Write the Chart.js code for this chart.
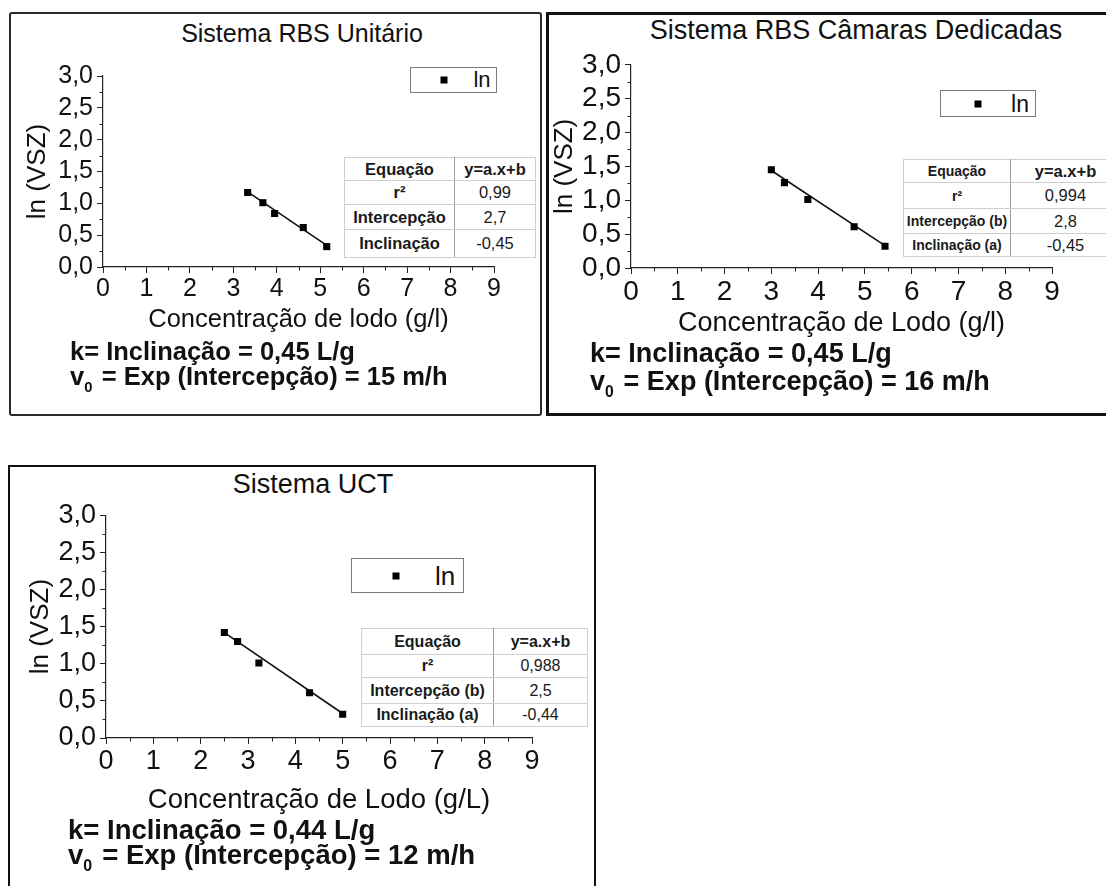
<!DOCTYPE html>
<html>
<head>
<meta charset="utf-8">
<script src="https://cdn.jsdelivr.net/npm/chart.js@4.4.1/dist/chart.umd.min.js"></script>
<style>
  body { margin: 0; background: #fff; }
  #fig { position: relative; width: 1106px; height: 886px; overflow: hidden;
         font-family: "Liberation Sans", Arial, sans-serif; color: #111; }
  .abs { position: absolute; }
  .center { transform: translate(-50%, -50%); white-space: nowrap; line-height: 1; }
  .line { transform: translateY(-50%); white-space: nowrap; line-height: 1; font-weight: bold; }
  .line sub { font-size: 58%; vertical-align: -0.45em; margin-right: 0.15em; }
  .legend { box-sizing: border-box; border: 1px solid #7a7a7a; background: #fff; }
  .legend .mk { position: absolute; width: 7px; height: 7px; background: #000;
                transform: translate(-50%, -50%); }
  table.eq { position: absolute; border-collapse: collapse; background: #fff;
             border: 1px solid #8c8c8c; table-layout: fixed; color: #1a1a1a; }
  table.eq td { border: 1px solid #cfcfcf; padding: 0; text-align: center;
                white-space: nowrap; overflow: hidden; }
  table.eq td.lab { font-weight: bold; border-right: 1px solid #9a9a9a; }
  table.eq tr.head td { font-weight: bold; }
</style>
</head>
<body>
<div id="fig"></div>
<script>
// ---- data ----
const xTickLabels = ["0", "1", "2", "3", "4", "5", "6", "7", "8", "9"];
const yTickLabels = ["0,0", "0,5", "1,0", "1,5", "2,0", "2,5", "3,0"];

const unitarioX = [3.33, 3.68, 3.95, 4.61, 5.15];
const unitarioY = [1.17, 1.01, 0.84, 0.62, 0.32];
const unitarioFitX = [3.33, 5.15];
const unitarioFitY = [1.18, 0.34];

const camarasX = [3.0, 3.28, 3.78, 4.77, 5.43];
const camarasY = [1.45, 1.26, 1.01, 0.61, 0.32];
const camarasFitX = [3.0, 5.43];
const camarasFitY = [1.44, 0.33];

const uctX = [2.5, 2.78, 3.23, 4.3, 5.0];
const uctY = [1.42, 1.30, 1.01, 0.61, 0.32];
const uctFitX = [2.5, 5.0];
const uctFitY = [1.42, 0.33];

const unitarioTable = [["Equação", "y=a.x+b"], ["r²", "0,99"], ["Intercepção", "2,7"], ["Inclinação", "-0,45"]];
const camarasTable = [["Equação", "y=a.x+b"], ["r²", "0,994"], ["Intercepção (b)", "2,8"], ["Inclinação (a)", "-0,45"]];
const uctTable = [["Equação", "y=a.x+b"], ["r²", "0,988"], ["Intercepção (b)", "2,5"], ["Inclinação (a)", "-0,44"]];

const unitarioNotes = ["k= Inclinação = 0,45 L/g", "= Exp (Intercepção) = 15 m/h"];
const camarasNotes = ["k= Inclinação = 0,45 L/g", "= Exp (Intercepção) = 16 m/h"];
const uctNotes = ["k= Inclinação = 0,44 L/g", "= Exp (Intercepção) = 12 m/h"];

// ---- layout of the three panels ----
let panels = [
  {
    title: "Sistema RBS Unitário", xTitle: "Concentração de lodo (g/l)",
    xs: unitarioX, ys: unitarioY, fitX: unitarioFitX, fitY: unitarioFitY,
    table: unitarioTable, notes: unitarioNotes,
    box: {left: 9, top: 12, width: 533, height: 404, border: "2px solid #2a2a2a", radius: 3},
    titlePos: {cx: 302, cy: 33, size: 25},
    canvas: {left: 12, top: 56, width: 526, height: 282},
    area: {x0: 103, x9: 494, y3: 76, y0: 267},
    tickSize: 25, yTitle: {cx: 38, size: 26}, xTitle2: {cy: 320, size: 25.5},
    legend: {left: 410, top: 67, width: 87, height: 26, mk: 443, txt: 481, size: 22},
    tbl: {left: 344, top: 157, cols: [110, 81], rows: [23, 24, 25, 28], lab: 16.5, val: 16.5, head: 16.5},
    notePos: {left: 70, k: 352, v: 379, size: 25.5}
  },
  {
    title: "Sistema RBS Câmaras Dedicadas", xTitle: "Concentração de Lodo (g/l)",
    xs: camarasX, ys: camarasY, fitX: camarasFitX, fitY: camarasFitY,
    table: camarasTable, notes: camarasNotes,
    box: {left: 546, top: 12, width: 580, height: 404, border: "3px solid #111", radius: 0},
    titlePos: {cx: 856, cy: 30, size: 27},
    canvas: {left: 549, top: 44, width: 540, height: 299},
    area: {x0: 631, x9: 1052, y3: 64, y0: 268},
    tickSize: 28, yTitle: {cx: 565, size: 26}, xTitle2: {cy: 324, size: 27},
    legend: {left: 940, top: 90, width: 96, height: 27, mk: 977, txt: 1019, size: 23},
    tbl: {left: 903, top: 159, cols: [107, 110], rows: [23, 26, 25, 23], lab: 14, val: 16.5, head: 14},
    notePos: {left: 590, k: 353, v: 384, size: 27}
  },
  {
    title: "Sistema UCT", xTitle: "Concentração de Lodo (g/L)",
    xs: uctX, ys: uctY, fitX: uctFitX, fitY: uctFitY,
    table: uctTable, notes: uctNotes,
    box: {left: 8, top: 465, width: 588, height: 440, border: "2px solid #111", radius: 0},
    titlePos: {cx: 313, cy: 484, size: 27},
    canvas: {left: 11, top: 495, width: 580, height: 324},
    area: {x0: 106, x9: 532, y3: 515, y0: 738},
    tickSize: 27, yTitle: {cx: 41, size: 26}, xTitle2: {cy: 800, size: 27.5},
    legend: {left: 351, top: 558, width: 113, height: 35, mk: 395, txt: 444, size: 26},
    tbl: {left: 361, top: 628, cols: [132, 94], rows: [26, 23, 26, 23], lab: 16, val: 16, head: 16},
    notePos: {left: 68, k: 830, v: 858, size: 27.5}
  }
];

const FONT = "Liberation Sans";
const AXIS = "#222";

// short half-step ticks (Chart.js has no minor ticks of its own)
const minorTicks = {
  id: "minorTicks",
  afterDraw(chart) {
    let {x, y} = chart.scales;
    let ctx = chart.ctx;
    ctx.save();
    ctx.strokeStyle = AXIS;
    ctx.lineWidth = 1;
    ctx.beginPath();
    for (let v = 0.5; v < 9; v += 1) {
      let px = Math.round(x.getPixelForValue(v)) + 0.5;
      ctx.moveTo(px, y.bottom);
      ctx.lineTo(px, y.bottom + 3.5);
    }
    for (let v = 0.25; v < 3; v += 0.5) {
      let py = Math.round(y.getPixelForValue(v)) + 0.5;
      ctx.moveTo(x.left, py);
      ctx.lineTo(x.left - 3.5, py);
    }
    ctx.stroke();
    ctx.restore();
  }
};

let fig = document.getElementById("fig");
panels.forEach(drawPanel);

function el(tag, cls, style, html) {
  let e = document.createElement(tag);
  if (cls) e.className = cls;
  Object.assign(e.style, style || {});
  if (html !== undefined) e.innerHTML = html;
  fig.appendChild(e);
  return e;
}

function drawPanel(p) {
  el("div", "abs", {
    left: p.box.left + "px", top: p.box.top + "px",
    width: p.box.width + "px", height: p.box.height + "px",
    border: p.box.border, borderRadius: p.box.radius + "px", boxSizing: "border-box"
  });

  el("div", "abs center", {
    left: p.titlePos.cx + "px", top: p.titlePos.cy + "px", fontSize: p.titlePos.size + "px"
  }, p.title);

  let c = p.canvas, a = p.area;
  let canvas = el("canvas", "abs", {left: c.left + "px", top: c.top + "px"});
  canvas.width = c.width;
  canvas.height = c.height;

  let yLine = p.yTitle.size * 1.2;
  let xLine = p.xTitle2.size * 1.2;

  new Chart(canvas, {
    type: "scatter",
    data: {
      datasets: [{
        label: "ln",
        data: p.xs.map((x, i) => ({x, y: p.ys[i]})),
        pointStyle: "rect",
        pointRadius: 5,
        backgroundColor: "#000",
        borderColor: "#000",
        borderWidth: 0
      }, {
        label: "fit",
        data: p.fitX.map((x, i) => ({x, y: p.fitY[i]})),
        showLine: true,
        pointRadius: 0,
        borderColor: "#111",
        borderWidth: 1.6
      }]
    },
    options: {
      responsive: false,
      animation: false,
      devicePixelRatio: 1,
      layout: {padding: {left: 0, top: a.y3 - c.top, right: c.left + c.width - a.x9, bottom: 0}},
      plugins: {legend: {display: false}, tooltip: {enabled: false}},
      scales: {
        x: {
          type: "linear", min: 0, max: 9,
          afterFit: s => { s.height = c.top + c.height - a.y0; },
          afterBuildTicks: s => { s.ticks = xTickLabels.map((_, i) => ({value: i})); },
          ticks: {
            callback: (v, i) => xTickLabels[i],
            autoSkip: false,
            color: "#111", padding: 1, maxRotation: 0,
            font: {family: FONT, size: p.tickSize}
          },
          grid: {drawOnChartArea: false, drawTicks: true, tickLength: 6, color: AXIS, lineWidth: 1},
          border: {display: true, color: AXIS, width: 1.2},
          title: {
            display: true, text: p.xTitle, color: "#111",
            font: {family: FONT, size: p.xTitle2.size},
            padding: {top: 0, bottom: c.top + c.height - p.xTitle2.cy - xLine / 2}
          }
        },
        y: {
          type: "linear", min: 0, max: 3,
          afterFit: s => { s.width = a.x0 - c.left; },
          afterBuildTicks: s => { s.ticks = yTickLabels.map((_, i) => ({value: i * 0.5})); },
          ticks: {
            callback: (v, i) => yTickLabels[i],
            autoSkip: false,
            color: "#111", padding: 4,
            font: {family: FONT, size: p.tickSize}
          },
          grid: {drawOnChartArea: false, drawTicks: true, tickLength: 6, color: AXIS, lineWidth: 1},
          border: {display: true, color: AXIS, width: 1.2},
          title: {
            display: true, text: "ln (VSZ)", color: "#111",
            font: {family: FONT, size: p.yTitle.size},
            padding: {top: p.yTitle.cx - c.left - yLine / 2, bottom: 0}
          }
        }
      }
    },
    plugins: [minorTicks]
  });

  // legend box
  let L = p.legend;
  let lg = el("div", "abs legend", {
    left: L.left + "px", top: L.top + "px", width: L.width + "px", height: L.height + "px"
  });
  let mk = document.createElement("div");
  mk.className = "mk";
  Object.assign(mk.style, {left: (L.mk - L.left) + "px", top: (L.height / 2 - 1) + "px"});
  lg.appendChild(mk);
  let lt = document.createElement("div");
  lt.className = "abs center";
  Object.assign(lt.style, {left: (L.txt - L.left) + "px", top: (L.height / 2 - 1) + "px", fontSize: L.size + "px"});
  lt.textContent = "ln";
  lg.appendChild(lt);

  // equation table
  let T = p.tbl;
  let tbl = el("table", "eq", {left: T.left + "px", top: T.top + "px",
    width: (T.cols[0] + T.cols[1]) + "px"});
  let cg = document.createElement("colgroup");
  T.cols.forEach(w => {
    let col = document.createElement("col");
    col.style.width = w + "px";
    cg.appendChild(col);
  });
  tbl.appendChild(cg);
  p.table.forEach((row, r) => {
    let tr = document.createElement("tr");
    if (r === 0) tr.className = "head";
    tr.style.height = T.rows[r] + "px";
    row.forEach((txt, k) => {
      let td = document.createElement("td");
      td.textContent = txt;
      if (k === 0) td.className = "lab";
      let size = r === 0 ? (k === 0 ? T.head : T.val) : (k === 0 ? T.lab : T.val);
      td.style.fontSize = size + "px";
      tr.appendChild(td);
    });
    tbl.appendChild(tr);
  });

  // k and v0 notes
  let N = p.notePos;
  el("div", "abs line", {left: N.left + "px", top: N.k + "px", fontSize: N.size + "px"}, p.notes[0]);
  el("div", "abs line", {left: N.left + "px", top: N.v + "px", fontSize: N.size + "px"},
    "v<sub>0</sub> " + p.notes[1]);
}
</script>
</body>
</html>
